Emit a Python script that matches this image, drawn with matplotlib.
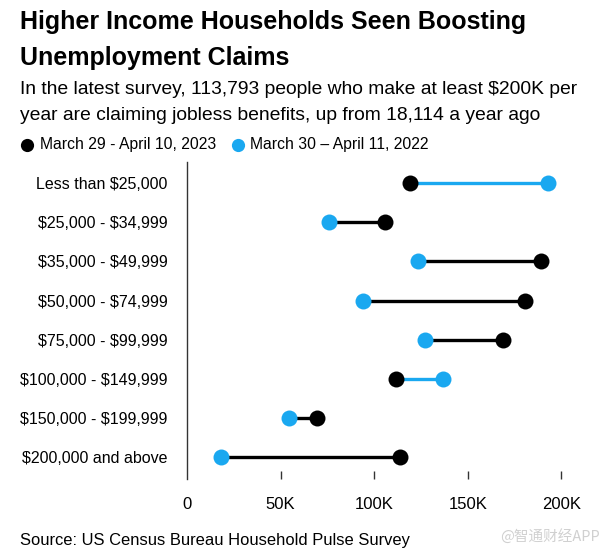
import matplotlib
matplotlib.use("Agg")
import matplotlib.pyplot as plt

plt.rcParams["text.parse_math"] = False

categories = ["Less than $25,000", "$25,000 - $34,999", "$35,000 - $49,999",
              "$50,000 - $74,999", "$75,000 - $99,999", "$100,000 - $149,999",
              "$150,000 - $199,999", "$200,000 and above"]
values_2023 = [119300, 105600, 189000, 180600, 168600, 111500, 69400, 113793]
values_2022 = [193000, 75900, 123400, 94200, 127000, 136600, 54400, 18114]
x_ticks = [0, 50000, 100000, 150000, 200000]
x_tick_labels = ["0", "50K", "100K", "150K", "200K"]
label_2023 = "March 29 - April 10, 2023"
label_2022 = "March 30 \u2013 April 11, 2022"

BLACK = "#000000"
BLUE = "#1AA8F0"
FONT = ["Liberation Sans", "DejaVu Sans"]

fig = plt.figure(figsize=(6.12, 5.54), dpi=100)
ax = fig.add_axes([187 / 612, 1 - 479 / 554, (580 - 187) / 612, (479 - 162) / 554])

ys = list(range(len(categories)))
for y, v23, v22 in zip(ys, values_2023, values_2022):
    col = BLUE if v22 > v23 else BLACK
    ax.plot([v23, v22], [y, y], color=col, lw=2.4, solid_capstyle="butt", zorder=2)
ax.plot(values_2022, ys, "o", color=BLUE, ms=11.5, mec="none", zorder=3)
ax.plot(values_2023, ys, "o", color=BLACK, ms=11.5, mec="none", zorder=3)

ax.set_xlim(0, 210000)
ax.set_ylim(7.56, -0.54)
for s in ["top", "right", "bottom"]:
    ax.spines[s].set_visible(False)
ax.spines["left"].set_color("#333333")
ax.spines["left"].set_linewidth(1.0)

ax.set_xticks(x_ticks)
ax.set_xticklabels(x_tick_labels, fontsize=12, family=FONT)
ax.tick_params(axis="x", direction="in", length=6, width=1.0, color="#333333", pad=13)
ax.xaxis.get_major_ticks()[0].tick1line.set_visible(False)
ax.set_yticks(ys)
ax.set_yticklabels(categories, fontsize=11.5, family=FONT)
ax.tick_params(axis="y", length=0, pad=14)

fig.text(20 / 612, 1 - 22 / 554, "Higher Income Households Seen Boosting",
         fontsize=18, fontweight="bold", family=FONT, va="center", ha="left")
fig.text(20 / 612, 1 - 58 / 554, "Unemployment Claims",
         fontsize=18, fontweight="bold", family=FONT, va="center", ha="left")
fig.text(20 / 612, 1 - 90 / 554,
         "In the latest survey, 113,793 people who make at least $200K per",
         fontsize=13.9, family=FONT, va="center", ha="left")
fig.text(20 / 612, 1 - 115 / 554,
         "year are claiming jobless benefits, up from 18,114 a year ago",
         fontsize=13.9, family=FONT, va="center", ha="left")

# legend
fig.lines.append(plt.Line2D([27 / 612], [1 - 145 / 554], marker="o", color=BLACK,
                            ms=9.5, mec="none", transform=fig.transFigure))
fig.text(40 / 612, 1 - 145 / 554, label_2023, fontsize=11.3, family=FONT,
         va="center", ha="left")
fig.lines.append(plt.Line2D([238 / 612], [1 - 145 / 554], marker="o", color=BLUE,
                            ms=9.5, mec="none", transform=fig.transFigure))
fig.text(250 / 612, 1 - 145 / 554, label_2022, fontsize=11.3, family=FONT,
         va="center", ha="left")

fig.text(20 / 612, 1 - 540 / 554, "Source: US Census Bureau Household Pulse Survey",
         fontsize=11.9, family=FONT, va="center", ha="left")
fig.text(600 / 612, 1 - 536 / 554, "@智通财经APP", fontsize=10.5,
         family=["Noto Sans CJK SC", "DejaVu Sans"], color="#d0d0d0",
         va="center", ha="right")

fig.savefig("out.png", dpi=100)
